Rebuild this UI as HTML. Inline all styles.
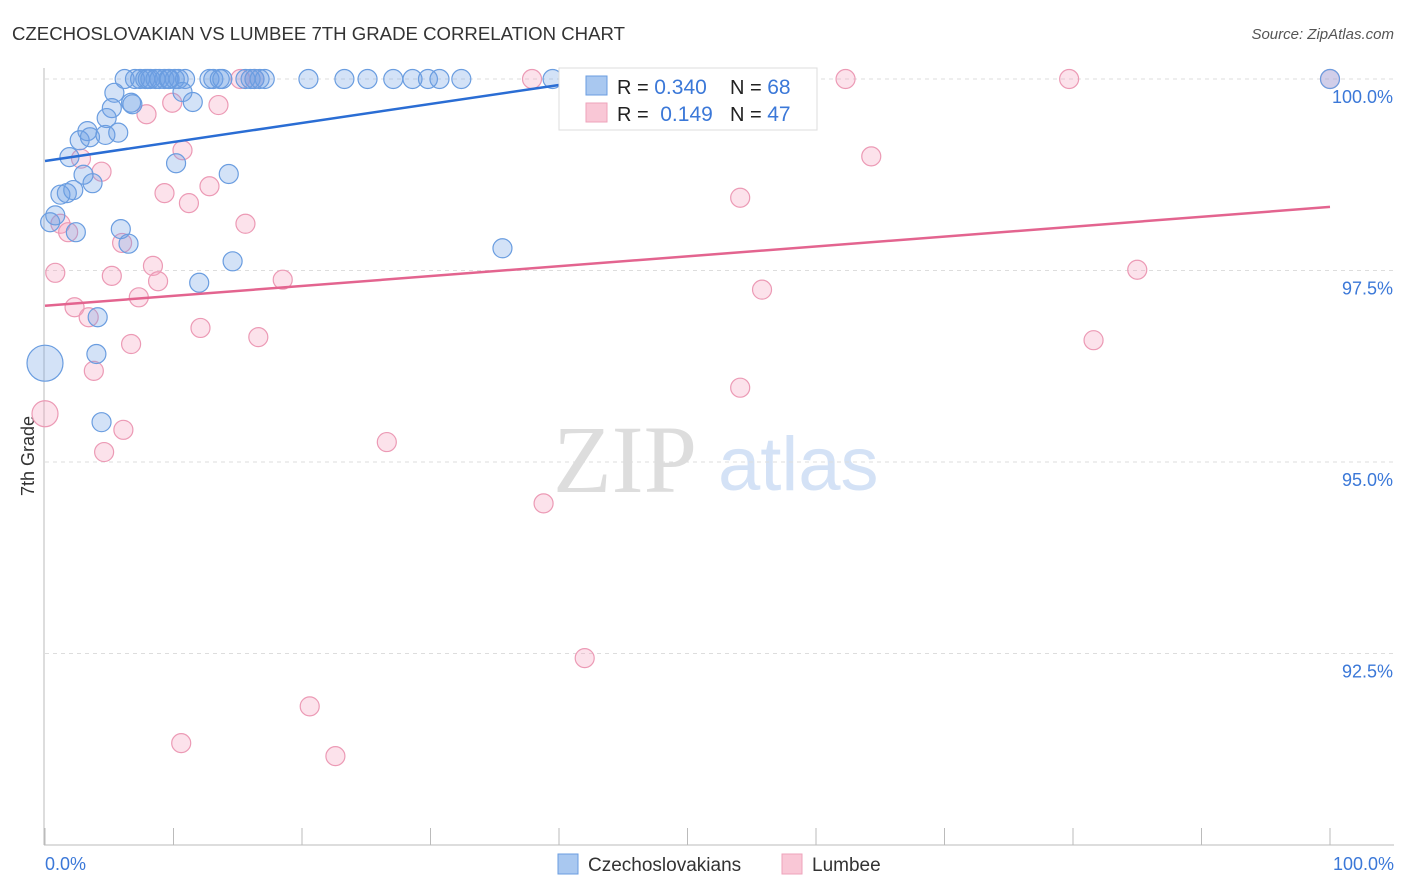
<!DOCTYPE html>
<html><head><meta charset="utf-8"><style>
body{margin:0;background:#fff;font-family:"Liberation Sans",sans-serif;}
svg{display:block}
</style></head><body>
<svg width="1406" height="892" xmlns="http://www.w3.org/2000/svg">
<text x="12" y="40" font-size="18" fill="#333" textLength="613" lengthAdjust="spacingAndGlyphs">CZECHOSLOVAKIAN VS LUMBEE 7TH GRADE CORRELATION CHART</text>
<text x="1394" y="39" font-size="15" fill="#555" text-anchor="end" font-style="italic">Source: ZipAtlas.com</text>
<g>
<text x="553" y="492" font-size="96" fill="#ddd" font-family="Liberation Serif, serif">ZIP</text>
<text x="718" y="490" font-size="76" fill="#d4e2f6">atlas</text>
</g>
<g id="grid"></g>
<line x1="44" y1="68" x2="44" y2="845" stroke="#bbb"/>
<line x1="44" y1="845" x2="1394" y2="845" stroke="#bbb"/>
<g id="xticks"></g>
<text x="45" y="870" font-size="18" fill="#3b78d8">0.0%</text>
<text x="1394" y="870" font-size="18" fill="#3b78d8" text-anchor="end">100.0%</text>
<text transform="translate(34,456) rotate(-90)" font-size="18" fill="#333" text-anchor="middle">7th Grade</text>
<g id="pts"></g>
<g id="lines"></g>
<g>
<rect x="559" y="68" width="258" height="62" fill="#fff" stroke="#ddd"/>
<rect x="586" y="76" width="21" height="19" fill="#a9c8f0" stroke="#6a9de0"/>
<rect x="586" y="103" width="21" height="19" fill="#f9c7d6" stroke="#eea3bb"/>
<text x="617" y="94" font-size="20" fill="#222">R = <tspan fill="#3b78d8" font-size="21">0.340</tspan></text>
<text x="730" y="94" font-size="20" fill="#222">N = <tspan fill="#3b78d8" font-size="21">68</tspan></text>
<text x="617" y="121" font-size="20" fill="#222">R = <tspan fill="#3b78d8" dx="6" font-size="21">0.149</tspan></text>
<text x="730" y="121" font-size="20" fill="#222">N = <tspan fill="#3b78d8" font-size="21">47</tspan></text>
</g>
<g>
<rect x="558" y="854" width="20" height="20" fill="#a9c8f0" stroke="#6a9de0"/>
<text x="588" y="871" font-size="19" fill="#333">Czechoslovakians</text>
<rect x="782" y="854" width="20" height="20" fill="#f9c7d6" stroke="#eea3bb"/>
<text x="812" y="871" font-size="19" fill="#333">Lumbee</text>
</g>
</svg>
<script>
const yTicks=[100,97.5,95,92.5];
const yTickLabels=["100.0%","97.5%","95.0%","92.5%"];
const xTicks=[0,10,20,30,40,50,60,70,80,90,100];
const blueX=[6.2,7.0,7.4,7.8,8.0,8.2,8.6,8.9,9.3,9.6,9.7,10.1,10.4,10.9,12.8,13.1,13.6,13.8,15.6,16.0,16.3,16.7,17.1,20.5,23.3,25.1,27.1,28.6,29.8,30.7,32.4,39.5,50.0,100,
5.4,10.7,5.2,6.7,6.8,11.5,4.8,2.7,3.3,3.5,4.7,5.7,1.9,10.2,3.0,3.7,14.3,1.2,1.7,2.2,0.4,0.8,2.4,5.9,6.5,35.6,14.6,12.0,4.1,4.0,0,4.4];
const blueY=[100,100,100,100,100,100,100,100,100,100,100,100,100,100,100,100,100,100,100,100,100,100,100,100,100,100,100,100,100,100,100,100,100,100,
99.82,99.83,99.62,99.69,99.67,99.70,99.49,99.20,99.32,99.24,99.27,99.30,98.98,98.90,98.75,98.64,98.76,98.49,98.51,98.55,98.13,98.22,98.00,98.04,97.85,97.79,97.62,97.34,96.89,96.41,96.29,95.52];
const pinkX=[37.9,15.2,16.3,62.3,79.7,100,7.9,9.9,13.5,10.7,2.8,4.4,9.3,11.2,12.8,54.1,64.3,1.2,1.8,15.6,6.0,0.8,5.2,8.4,8.8,18.5,7.3,2.3,3.4,12.1,6.7,16.6,55.8,85.0,81.6,3.8,54.1,0,6.1,4.6,26.6,38.8,42.0,20.6,10.6,22.6];
const pinkY=[100,100,100,100,100,100,99.54,99.69,99.66,99.07,98.96,98.79,98.51,98.38,98.60,98.45,98.99,98.11,98.00,98.11,97.86,97.47,97.43,97.56,97.36,97.38,97.15,97.02,96.89,96.75,96.54,96.63,97.25,97.51,96.59,96.19,95.97,95.63,95.42,95.13,95.26,94.46,92.44,91.81,91.33,91.16];
const blueTrend=[98.93,101.41];
const pinkTrend=[97.04,98.33];
const NS="http://www.w3.org/2000/svg";
const sx=v=>45+v*12.85, sy=v=>79+(100-v)*76.6;
function mk(tag,attrs,parent){const e=document.createElementNS(NS,tag);for(const k in attrs)e.setAttribute(k,attrs[k]);parent.appendChild(e);return e;}
const grid=document.getElementById('grid');
yTicks.forEach((t,i)=>{
 const l=mk('line',{x1:45,x2:1394,y1:sy(t),y2:sy(t),stroke:'#ddd','stroke-dasharray':'4,4'},grid);
 
 
 const tx=mk('text',{x:1393,y:sy(t)+24,'font-size':18,fill:'#3b78d8','text-anchor':'end'},grid);
 tx.textContent=yTickLabels[i];
 
 
});
const xt=document.getElementById('xticks');
xTicks.forEach(t=>{
 const l=mk('line',{x1:sx(t),x2:sx(t),y1:828,y2:845,stroke:'#bbb'},xt);
 
 
});
const pts=document.getElementById('pts');
pinkX.forEach((x,i)=>{
 const c=mk('circle',{cx:sx(x),cy:sy(pinkY[i]),r:(x===0?13:9.5),fill:'rgba(244,160,188,0.3)',stroke:'#ec9ab5','stroke-width':1.2},pts);
 
 
});
blueX.forEach((x,i)=>{
 const c=mk('circle',{cx:sx(x),cy:sy(blueY[i]),r:(x===0?18:9.5),fill:'rgba(110,160,230,0.3)',stroke:'#6a9de0','stroke-width':1.2},pts);
 
 
});
const lg=document.getElementById('lines');
const bl=mk('line',{x1:sx(0),y1:sy(blueTrend[0]),x2:sx(40),y2:sy(blueTrend[0]+(blueTrend[1]-blueTrend[0])*0.4),stroke:'#2a6dd4','stroke-width':2.5},lg);


const pl=mk('line',{x1:sx(0),y1:sy(pinkTrend[0]),x2:sx(100),y2:sy(pinkTrend[1]),stroke:'#e3648f','stroke-width':2.5},lg);


</script>
</body></html>
